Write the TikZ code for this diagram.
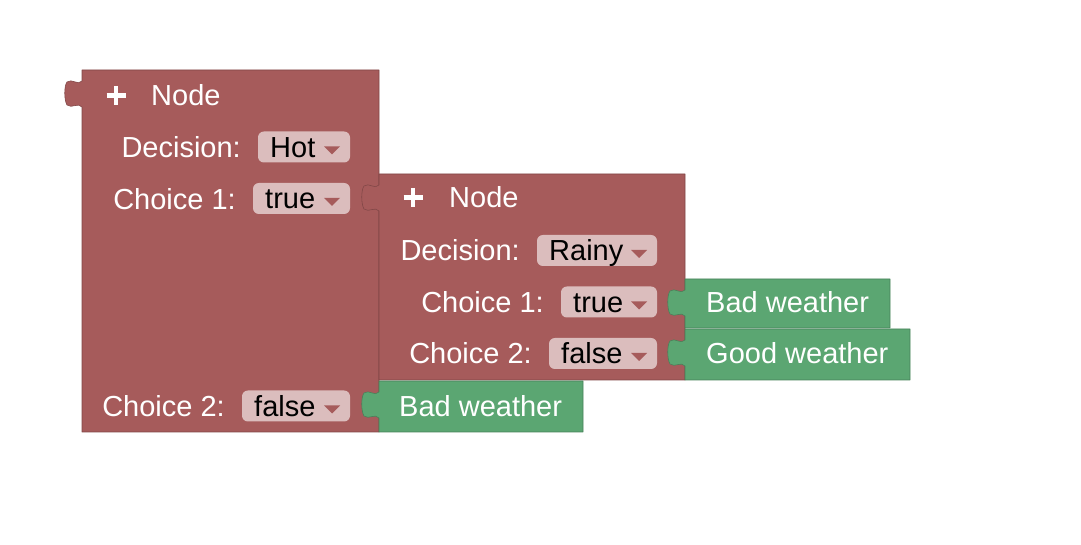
\documentclass[tikz,border=0pt]{standalone}
\usepackage{fontspec}
\setmainfont{Liberation Sans}
\definecolor{blk}{HTML}{A65B5B}
\definecolor{grn}{HTML}{5BA672}
\definecolor{pillc}{HTML}{DBBDBD}
\tikzset{
  lefttab/.style 2 args={insert path={-- (#1,#2+37) .. controls (#1-4,#2+32) and (#1-10,#2+39) .. (#1-15,#2+35) .. controls (#1-18,#2+30) and (#1-18,#2+16) .. (#1-15,#2+12) .. controls (#1-10,#2+8) and (#1-4,#2+16) .. (#1,#2+11)}},
  redblock/.style={fill=blk, draw=blk!78!black, line width=0.5pt, line join=round},
  greenblock/.style={fill=grn, draw=grn!78!black, line width=0.5pt, line join=round},
  lbl/.style={text=white, inner sep=0pt, font=\fontsize{24.75pt}{29pt}\selectfont},
  val/.style={text=black, inner sep=0pt, font=\fontsize{24.75pt}{29pt}\selectfont},
  pillbox/.style={fill=pillc, rounded corners=5pt},
  plusicon/.style={white, line width=4pt},
}
\newcommand\ddbox[5]{%
  \fill[pillbox] (#2,#4-15.5) rectangle (#3,#4+15.5);
  \node[val, anchor=base west] (#1) at (#2+12,#4+10.5) {#5};
  \fill[blk] (#3-26,#4-0.5) -- (#3-10,#4-0.5) -- (#3-18,#4+7.5) -- cycle;
}
\begin{document}
\begin{tikzpicture}[x=0.03cm,y=-0.03cm]
\useasboundingbox (0,0) rectangle (1081,545);
% outer node block
\draw[redblock] (82,70) -- (379,70) -- (379,432) -- (82,432) [lefttab={82}{70}] -- cycle;
\draw[plusicon] (106.5,95.5) -- (125.5,95.5) (116,86) -- (116,105);
\node[lbl, anchor=base west] (n1) at (151,105.5) {Node};
\node[lbl, anchor=base east] (d1) at (241,157.5) {Decision:};
\ddbox{v1}{258}{350}{147}{Hot}
\node[lbl, anchor=base east] (c11) at (236,209.5) {Choice 1:};
\ddbox{v2}{253}{350}{198.5}{true}
\node[lbl, anchor=base east] (c12) at (225,416.5) {Choice 2:};
\ddbox{v3}{242}{350}{406}{false}
% inner node block
\draw[redblock] (379,174) -- (685,174) -- (685,380) -- (379,380) [lefttab={379}{174}] -- cycle;
\draw[plusicon] (403.5,197.5) -- (422.5,197.5) (413,188) -- (413,207);
\node[lbl, anchor=base west] (n2) at (449,208) {Node};
\node[lbl, anchor=base east] (d2) at (520,261) {Decision:};
\ddbox{v4}{537}{657}{250.5}{Rainy}
\node[lbl, anchor=base east] (c21) at (544,312.5) {Choice 1:};
\ddbox{v5}{561}{657}{302}{true}
\node[lbl, anchor=base east] (c22) at (532,364) {Choice 2:};
\ddbox{v6}{549}{657}{353.5}{false}
% green leaf blocks
\draw[greenblock] (685,279) -- (890,279) -- (890,328) -- (685,328) [lefttab={685}{279}] -- cycle;
\node[lbl, anchor=base west] (g1) at (706,312.5) {Bad weather};
\draw[greenblock] (685,329) -- (910,329) -- (910,380) -- (685,380) [lefttab={685}{329}] -- cycle;
\node[lbl, anchor=base west] (g2) at (706,364) {Good weather};
\draw[greenblock] (379,381) -- (583,381) -- (583,432) -- (379,432) [lefttab={379}{381}] -- cycle;
\node[lbl, anchor=base west] (g3) at (399,416.5) {Bad weather};
\end{tikzpicture}
\end{document}
